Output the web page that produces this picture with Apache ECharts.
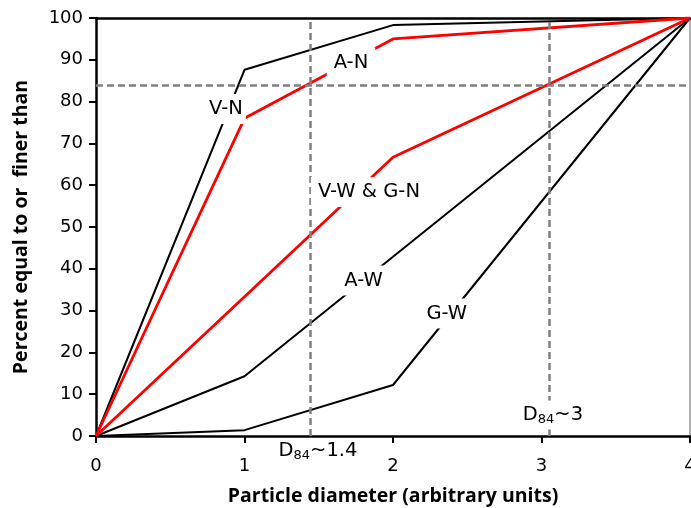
<!DOCTYPE html>
<html>
<head>
<meta charset="utf-8">
<script src="https://cdn.jsdelivr.net/npm/echarts@6/dist/echarts.min.js"></script>
<style>html,body{margin:0;padding:0;background:#fff}#c{width:691px;height:508px}</style>
</head>
<body>
<div id="c"></div>
<script>
// Data (x = particle diameter, y = percent finer)
const xPoints = [0, 1, 2, 4];
const vN  = [0, 87.6, 98.3, 100];
const aN  = [0, 76.0, 95.0, 100];
const vwGN = [0, 33.3, 66.7, 100];
const aW  = [0, 14.3, 42.9, 100];
const gW  = [0, 1.4, 12.2, 100];
const xTicks = [0, 1, 2, 3, 4];
const yTicks = [0, 10, 20, 30, 40, 50, 60, 70, 80, 90, 100];
const d84Level = 84;
const d84Values = [1.44, 3.05];
const annoText = ['V-N', 'A-N', 'V-W & G-N', 'A-W', 'G-W', 'D{s|84}~1.4', 'D{s|84}~3'];
const annoX = [0.875, 1.717, 1.838, 1.801, 2.362, 1.495, 3.077];
const annoY = [78.2, 89.35, 58.4, 37.2, 29.3, 0, 5.0];

const FONT = 'DejaVu Sans';
const TFONT = 'Open Sans';
const pairs = ys => xPoints.map((x, i) => [x, ys[i]]);
const mkLine = (name, ys, color, w) => ({
  name, type: 'line', data: pairs(ys), symbol: 'none', smooth: false,
  lineStyle: { color, width: w }, z: 3, animation: false
});
const annoPad = [[5, 3], [5, 7], [5, 7], [5, 7], [5, 7], [0, 3], [3, 5]];
const annoOffset = [[0, 0], [0, 0], [0, 0], [0, 0], [0, 0], [0, 15], [0, 0]];

const chart = echarts.init(document.getElementById('c'));
chart.setOption({
  animation: false,
  backgroundColor: '#fff',
  grid: { left: 96, right: 1, top: 18, bottom: 72, containLabel: false, outerBoundsMode: 'none' },
  xAxis: [{
    type: 'value', min: 0, max: 4, interval: 1,
    axisLine: { onZero: false, lineStyle: { color: '#000', width: 2.5 } },
    axisTick: { show: true, inside: false, length: 7, lineStyle: { color: '#000', width: 2 } },
    axisLabel: { color: '#000', fontFamily: FONT, fontSize: 18, margin: 21, hideOverlap: false,
      showMaxLabel: true, showMinLabel: true,
      formatter: v => xTicks.includes(v) ? String(v) : '' },
    splitLine: { show: false },
    name: 'Particle diameter (arbitrary units)', nameLocation: 'middle', nameGap: 50,
    nameTextStyle: { color: '#000', fontFamily: TFONT, fontWeight: 'bold', fontSize: 19.5 }
  }, {
    type: 'value', min: 0, max: 4, position: 'top',
    axisLine: { show: true, onZero: false, lineStyle: { color: '#000', width: 2.5 } },
    axisTick: { show: false }, axisLabel: { show: false }, splitLine: { show: false }
  }],
  yAxis: [{
    type: 'value', min: 0, max: 100, interval: 10,
    axisLine: { show: true, onZero: false, lineStyle: { color: '#000', width: 2.5 } },
    axisTick: { show: true, inside: false, length: 7, lineStyle: { color: '#000', width: 2 } },
    axisLabel: { color: '#000', fontFamily: FONT, fontSize: 18, margin: 13,
      formatter: v => yTicks.includes(v) ? String(v) : '' },
    splitLine: { show: false },
    name: 'Percent equal to or  finer than', nameLocation: 'middle', nameGap: 65,
    nameTextStyle: { color: '#000', fontFamily: TFONT, fontWeight: 'bold', fontSize: 19.5 }
  }, {
    type: 'value', min: 0, max: 100, position: 'right',
    axisLine: { show: true, onZero: false, lineStyle: { color: '#999', width: 1.5 } },
    axisTick: { show: false }, axisLabel: { show: false }, splitLine: { show: false }
  }],
  series: [
    mkLine('G-W', gW, '#000', 2),
    mkLine('A-W', aW, '#000', 2),
    mkLine('V-N', vN, '#000', 2),
    mkLine('V-W & G-N', vwGN, '#ff0000', 2.8),
    mkLine('A-N', aN, '#ff0000', 2.8),
    {
      type: 'line', data: [], z: 5, animation: false,
      markLine: {
        silent: true, symbol: 'none', animation: false,
        label: { show: false },
        lineStyle: { color: '#808080', width: 2.5, type: [7, 4] },
        data: [
          [{ coord: [0, d84Level] }, { coord: [4, d84Level] }],
          ...d84Values.map(v => [{ coord: [v, 0] }, { coord: [v, 100] }])
        ]
      }
    },
    {
      type: 'line', data: [], z: 10, animation: false,
      markPoint: {
        silent: true, animation: false,
        symbol: 'rect', symbolSize: 1,
        itemStyle: { color: 'rgba(255,255,255,0)' },
        data: annoX.map((x, i) => ({ coord: [x, annoY[i]], value: annoText[i],
          label: { padding: annoPad[i], offset: annoOffset[i] } })),
        label: {
          show: true, position: 'inside', formatter: p => p.data.value,
          color: '#000', opacity: 1, fontFamily: FONT, fontSize: 19.5,
          backgroundColor: '#fff', padding: [5, 7],
          rich: { s: { fontSize: 13, fontFamily: FONT, color: '#000', padding: [10, 0, 0, 0] } }
        }
      }
    }
  ]
});
</script>
</body>
</html>
